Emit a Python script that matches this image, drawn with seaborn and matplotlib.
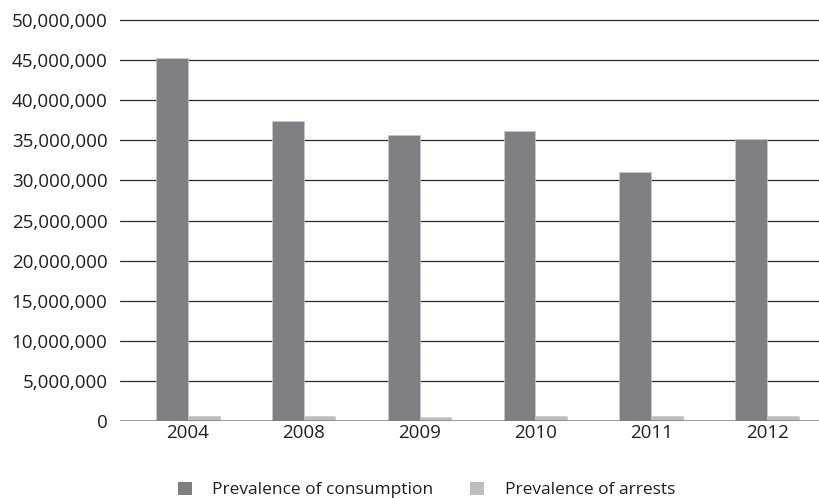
import matplotlib
matplotlib.use("Agg")
import matplotlib.pyplot as plt
import seaborn as sns
import pandas as pd
from matplotlib.ticker import FuncFormatter
from matplotlib.patches import Patch

years = ["2004", "2008", "2009", "2010", "2011", "2012"]
consumption = [45200000, 37400000, 35700000, 36100000, 31000000, 35200000]
arrests = [580000, 580000, 460000, 580000, 610000, 600000]
series_names = ["Prevalence of consumption", "Prevalence of arrests"]
colors = ["#808084", "#bdbdc0"]

df = pd.DataFrame({
    "year": years * 2,
    "value": consumption + arrests,
    "series": [series_names[0]] * len(years) + [series_names[1]] * len(years),
})

sns.set_theme(style="white")
plt.rcParams["font.family"] = ["Open Sans", "DejaVu Sans"]

fig = plt.figure(figsize=(8.2, 4.98), dpi=100)
ax = fig.add_axes([120 / 820, 1 - 421 / 498, 1 - 120 / 820, (421 - 20) / 498])

sns.barplot(data=df, x="year", y="value", hue="series", palette=colors,
            width=0.55, ax=ax, legend=False, saturation=1,
            edgecolor="#c8c8ca", linewidth=0.5)

ax.set_xlim(-0.584, 5.455)
ax.set_ylim(0, 50000000)
ax.set_yticks(range(0, 50000001, 5000000))
ax.yaxis.set_major_formatter(FuncFormatter(lambda v, p: f"{int(v):,}"))

for y in range(5000000, 50000001, 5000000):
    ax.axhline(y, color="#2a2a2a", linewidth=0.9, zorder=0, clip_on=False)
ax.axhline(0, color="#808080", linewidth=1.8, zorder=3)

for s in ax.spines.values():
    s.set_visible(False)
ax.tick_params(axis="both", length=0, labelsize=13.5, colors="#231f20")
ax.tick_params(axis="y", pad=9)
ax.tick_params(axis="x", pad=2)
ax.set_xlabel("")
ax.set_ylabel("")

handles = [Patch(facecolor=c, edgecolor="none") for c in colors]
fig.legend(handles, series_names, loc="center", bbox_to_anchor=(0.52, 0.016),
           ncol=2, frameon=False, fontsize=12.5, handlelength=0.8, handleheight=0.8,
           handletextpad=1.2, columnspacing=2.1, labelcolor="#231f20",
           borderpad=0, borderaxespad=0)

fig.savefig("out.png", dpi=100)
